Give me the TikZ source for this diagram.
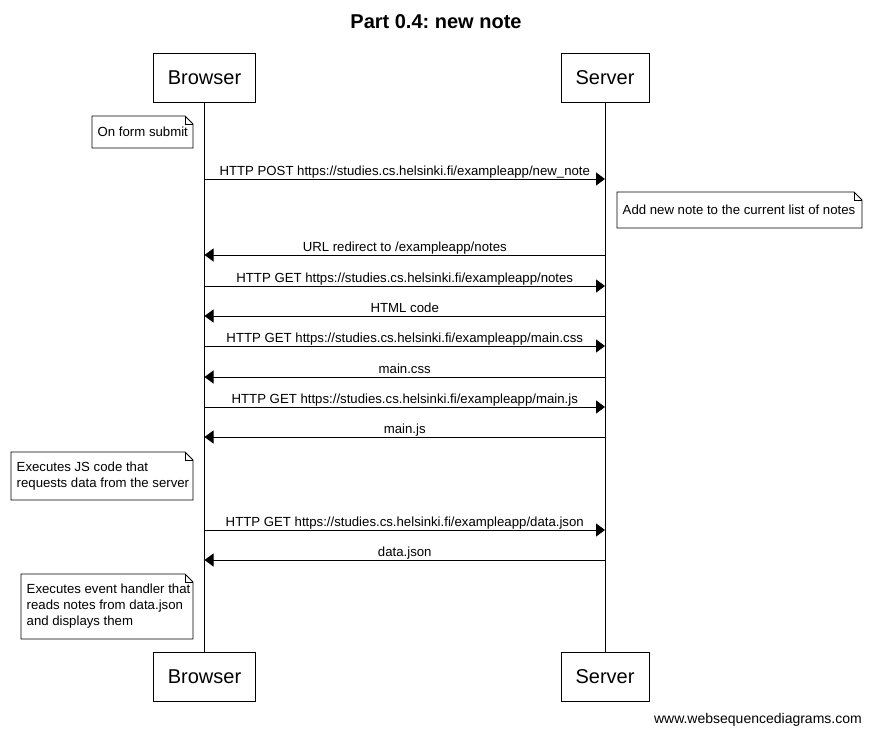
\documentclass[tikz,border=0pt]{standalone}
\usepackage{fontspec}
\setmainfont{Liberation Sans}
\usetikzlibrary{arrows.meta}
\frenchspacing
\newcommand\mynote[6]{% name, x1, y1, x2, y2, text
  \draw[notebox] (#2,#3) -- (#4-8,#3) -- (#4,#3+8) -- (#4,#5) -- (#2,#5) -- cycle;
  \draw[notebox] (#4-8,#3) -- (#4-8,#3+8) -- (#4,#3+8);
  \node[notetext] (#1) at (#2+5.5,{(#3+#5)/2}) {#6};
}
\begin{document}
\frenchspacing
\begin{tikzpicture}[x=1pt,y=-1pt,
  actor/.style={draw, line width=1pt, fill=white, minimum height=49pt,
    inner sep=0pt, font=\fontsize{20}{24}\selectfont},
  lifeline/.style={line width=1pt},
  msg/.style={line width=1pt, -{Triangle[length=9pt,width=13pt]}},
  lbl/.style={anchor=base, inner sep=0pt, font=\fontsize{13.2}{16}\selectfont},
  notebox/.style={line width=0.8pt, line join=miter},
  notetext/.style={anchor=west, align=left, inner sep=0pt, font=\fontsize{13.2}{16}\selectfont},
]
\useasboundingbox (0,0) rectangle (871,736);
\fill[white] (0,0) rectangle (871,736);

\node[font=\bfseries\fontsize{20}{24}\selectfont, inner sep=0pt] (title) at (436,22) {Part 0.4: new note};

\node[actor, minimum width=102pt] (bT) at (204.5,77.5) {Browser};
\node[actor, minimum width=88pt] (sT) at (605,77.5) {Server};
\node[actor, minimum width=102pt] (bB) at (204.5,676.5) {Browser};
\node[actor, minimum width=88pt] (sB) at (605,676.5) {Server};

\draw[lifeline] (bT.south) -- (bB.north);
\draw[lifeline] (sT.south) -- (sB.north);

\mynote{n1}{92}{116}{193}{148}{On form submit}

\draw[msg] (bT.south |- 0,179) -- (sT.south |- 0,179)
  node[lbl, pos=0.5, yshift=3.5pt] (m1) {HTTP POST https://studies.cs.helsinki.fi/exampleapp/new\_note};

\mynote{n2}{617}{192}{862}{228}{Add new note to the current list of notes}

\draw[msg] (sT.south |- 0,255) -- (bT.south |- 0,255)
  node[lbl, pos=0.5, yshift=3.5pt] (m2) {URL redirect to /exampleapp/notes};
\draw[msg] (bT.south |- 0,286) -- (sT.south |- 0,286)
  node[lbl, pos=0.5, yshift=3.5pt] (m3) {HTTP GET https://studies.cs.helsinki.fi/exampleapp/notes};
\draw[msg] (sT.south |- 0,316) -- (bT.south |- 0,316)
  node[lbl, pos=0.5, yshift=3.5pt] (m4) {HTML code};
\draw[msg] (bT.south |- 0,346) -- (sT.south |- 0,346)
  node[lbl, pos=0.5, yshift=3.5pt] (m5) {HTTP GET https://studies.cs.helsinki.fi/exampleapp/main.css};
\draw[msg] (sT.south |- 0,377) -- (bT.south |- 0,377)
  node[lbl, pos=0.5, yshift=3.5pt] (m6) {main.css};
\draw[msg] (bT.south |- 0,407) -- (sT.south |- 0,407)
  node[lbl, pos=0.5, yshift=3.5pt] (m7) {HTTP GET https://studies.cs.helsinki.fi/exampleapp/main.js};
\draw[msg] (sT.south |- 0,437) -- (bT.south |- 0,437)
  node[lbl, pos=0.5, yshift=3.5pt] (m8) {main.js};

\mynote{n3}{11}{452}{193}{500}{Executes JS code that\\requests data from the server}

\draw[msg] (bT.south |- 0,530) -- (sT.south |- 0,530)
  node[lbl, pos=0.5, yshift=3.5pt] (m9) {HTTP GET https://studies.cs.helsinki.fi/exampleapp/data.json};
\draw[msg] (sT.south |- 0,560) -- (bT.south |- 0,560)
  node[lbl, pos=0.5, yshift=3.5pt] (m10) {data.json};

\mynote{n4}{21}{574}{193}{639}{Executes event handler that\\reads notes from data.json\\and displays them}

\node[anchor=east, inner sep=0pt, font=\fontsize{14}{17}\selectfont] (footer) at (862,720) {www.websequencediagrams.com};
\end{tikzpicture}
\end{document}
